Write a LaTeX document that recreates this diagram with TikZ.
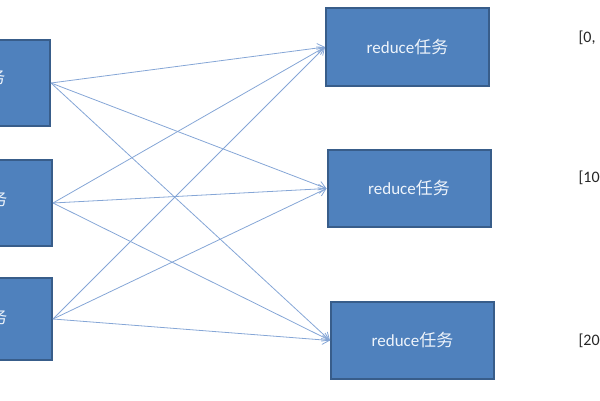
\documentclass[tikz,border=0pt]{standalone}
\usepackage{fontspec}
\setmainfont{Carlito}
\newfontfamily\cjk{Noto Sans CJK SC}
\usetikzlibrary{arrows.meta}
\definecolor{boxfill}{HTML}{4F81BD}
\definecolor{boxline}{HTML}{385D8A}
\definecolor{linkc}{HTML}{85A6D6}
\definecolor{boxtext}{HTML}{EEF4FB}
\tikzset{
  task/.style={draw=boxline, line width=2pt, fill=boxfill, text=boxtext,
    minimum width=163pt, inner sep=0pt, font=\fontsize{17}{20}\selectfont},
  maptext/.style={text=boxtext, anchor=east, font=\fontsize{17}{20}\selectfont},
  link/.style={draw=linkc, line width=0.8pt, -{Straight Barb[length=7pt,width=9pt,line width=0.8pt]}},
  rng/.style={anchor=west, font=\fontsize{16}{19}\selectfont, text=black!85}
}
\begin{document}
\begin{tikzpicture}[x=1pt,y=-1pt]
\useasboundingbox (0,0) rectangle (600,400);
\node[task, minimum height=86pt] (m1) at (-31.5,83) {};
\node[task, minimum height=86pt] (m2) at (-29.5,203) {};
\node[task, minimum height=82pt] (m3) at (-29.5,319) {};
\node[maptext] (t1) at (9,78) {map{\cjk 任务}};
\node[maptext] (t2) at (11,200) {map{\cjk 任务}};
\node[maptext] (t3) at (11,318) {map{\cjk 任务}};
\node[task, minimum height=78pt] (r1) at (407.5,47) {reduce{\cjk 任务}};
\node[task, minimum height=77pt] (r2) at (409,188.5) {reduce{\cjk 任务}};
\node[task, minimum height=77pt] (r3) at (412.5,340.5) {reduce{\cjk 任务}};
\node[rng] (l1) at (575,38) {[0,};
\node[rng] (l2) at (575,178) {[100};
\node[rng] (l3) at (575,341) {[200};
\foreach \m in {m1,m2,m3}{
  \foreach \r in {r1,r2,r3}{
    \draw[link] (\m.east) -- (\r.west);
  }
}
\end{tikzpicture}
\end{document}
